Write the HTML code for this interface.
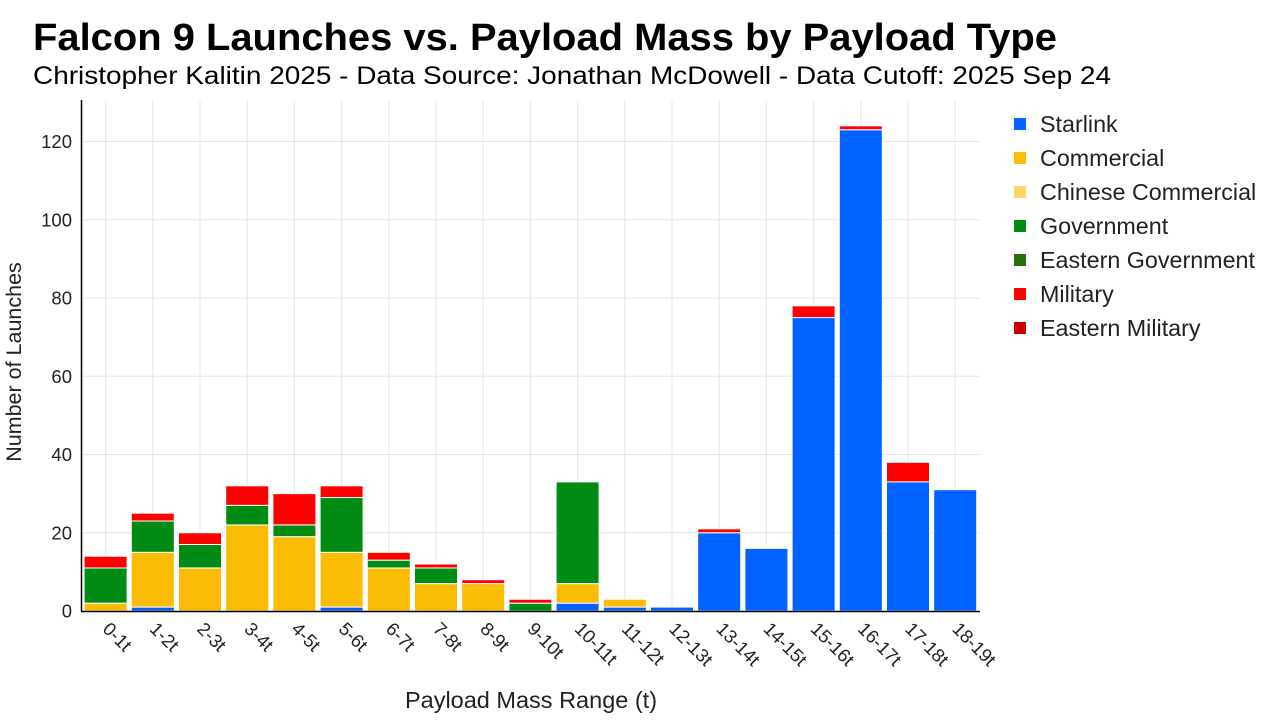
<!DOCTYPE html>
<html><head><meta charset="utf-8"><style>
html,body{margin:0;padding:0;background:#fff;}
svg{display:block;font-family:"Liberation Sans",Arial,sans-serif;}
</style></head><body>
<svg id="s" width="1280" height="720" xmlns="http://www.w3.org/2000/svg">
<text x="33" y="50" font-size="38" font-weight="bold" fill="#000" textLength="1024" lengthAdjust="spacingAndGlyphs">Falcon 9 Launches vs. Payload Mass by Payload Type</text>
<text x="33" y="84" font-size="25" fill="#000" textLength="1078" lengthAdjust="spacingAndGlyphs">Christopher Kalitin 2025 - Data Source: Jonathan McDowell - Data Cutoff: 2025 Sep 24</text>
<g id="grid"></g>
<g id="bars"></g>
<line x1="81.5" y1="100" x2="81.5" y2="611" stroke="#000" stroke-width="1.5"/>
<line x1="81" y1="611.5" x2="980" y2="611.5" stroke="#000" stroke-width="1.5"/>
<g id="labels" font-size="18.5" fill="#222"></g>
<text x="531" y="708" font-size="23.5" fill="#222" text-anchor="middle">Payload Mass Range (t)</text>
<text transform="translate(21,362) rotate(-90)" font-size="21.5" fill="#222" text-anchor="middle">Number of Launches</text>
<g font-size="23.3" fill="#222">
<rect x="1014" y="118" width="12" height="12" fill="#0062ff"/><text x="1040" y="132">Starlink</text>
<rect x="1014" y="152" width="12" height="12" fill="#fbbc04"/><text x="1040" y="166">Commercial</text>
<rect x="1014" y="186" width="12" height="12" fill="#fdd663"/><text x="1040" y="200">Chinese Commercial</text>
<rect x="1014" y="220" width="12" height="12" fill="#008b14"/><text x="1040" y="234">Government</text>
<rect x="1014" y="254" width="12" height="12" fill="#2a6e0e"/><text x="1040" y="268">Eastern Government</text>
<rect x="1014" y="288" width="12" height="12" fill="#ff0000"/><text x="1040" y="302">Military</text>
<rect x="1014" y="322" width="12" height="12" fill="#c80000"/><text x="1040" y="336">Eastern Military</text>
</g>
</svg>
<script>
var NS="http://www.w3.org/2000/svg";
function el(t,a,p){var e=document.createElementNS(NS,t);for(var k in a)e.setAttribute(k,a[k]);document.getElementById(p).appendChild(e);return e;}
var x0=82,step=47.2,y0=611,u=3.9125;
var data=[[0,2,9,3],[1,14,8,2],[0,11,6,3],[0,22,5,5],[0,19,3,8],[1,14,14,3],[0,11,2,2],[0,7,4,1],[0,7,0,1],[0,0,2,1],[2,5,26,0],[1,2,0,0],[1,0,0,0],[20,0,0,1],[16,0,0,0],[75,0,0,3],[123,0,0,1],[33,0,0,5],[31,0,0,0]];
var cols=["#0062ff","#fbbc04","#008b14","#ff0000"];
for(var v=0;v<=120;v+=20){var y=y0-v*u;if(v>0)el("line",{x1:82,x2:980,y1:y,y2:y,stroke:"#e5e5e5","stroke-width":1},"grid");
var t=el("text",{x:72,y:y+6.5,"font-size":18.5,fill:"#222","text-anchor":"end"},"grid");t.textContent=v;}
for(var i=0;i<19;i++){var cx=x0+step*(i+0.5);
el("line",{x1:cx,x2:cx,y1:100,y2:611,stroke:"#e5e5e5","stroke-width":1},"grid");
var b=0;for(var j=0;j<4;j++){var n=data[i][j];if(!n)continue;
el("rect",{x:cx-21.5,y:y0-(b+n)*u,width:43,height:n*u,fill:cols[j],stroke:"#fff","stroke-width":1},"bars");b+=n;}
var t=el("text",{transform:"translate("+(cx-4)+",630) rotate(45)"},"labels");t.textContent=i+"-"+(i+1)+"t";}
</script>
</body></html>
